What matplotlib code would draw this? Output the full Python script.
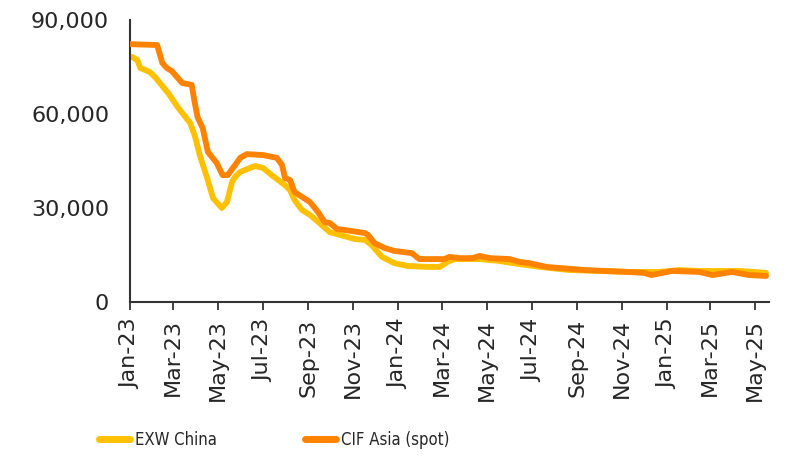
import matplotlib
matplotlib.use("Agg")
import matplotlib.pyplot as plt
import matplotlib.dates as mdates
from matplotlib.font_manager import FontProperties
import pandas as pd

# ---- data ----
exw_dates = ["2023-01-01", "2023-01-04", "2023-01-11", "2023-01-15", "2023-01-28", "2023-02-04",
             "2023-02-22", "2023-03-07", "2023-03-24", "2023-03-30", "2023-04-06", "2023-04-16",
             "2023-04-24", "2023-05-06", "2023-05-13", "2023-05-20", "2023-05-24", "2023-05-31",
             "2023-06-20", "2023-07-01", "2023-07-13", "2023-07-31", "2023-08-07", "2023-08-13",
             "2023-08-23", "2023-09-03", "2023-09-16", "2023-09-30", "2023-10-14", "2023-11-03",
             "2023-11-17", "2023-11-26", "2023-12-10", "2023-12-27", "2024-01-14", "2024-02-10",
             "2024-02-27", "2024-03-08", "2024-03-18", "2024-04-21", "2024-05-18", "2024-06-14",
             "2024-07-12", "2024-08-21", "2024-10-01", "2024-11-11", "2024-12-22", "2025-01-18",
             "2025-02-14", "2025-03-14", "2025-04-11", "2025-05-16"]
exw_values = [78200, 78200, 77200, 74700, 73400, 71800,
              66700, 62200, 57100, 53300, 46900, 39600,
              33200, 30000, 31900, 38300, 39900, 41500,
              43400, 42800, 40500, 37300, 35700, 32600,
              29400, 27800, 25200, 22300, 21400, 20100,
              19800, 18200, 14400, 12400, 11500, 11200,
              11200, 12800, 13700, 13700, 13100, 12100,
              11200, 10200, 9900, 9600, 9600, 10200,
              9900, 9900, 9900, 9300]

cif_dates = ["2023-01-01", "2023-02-07", "2023-02-14", "2023-02-20", "2023-02-27", "2023-03-13",
             "2023-03-26", "2023-03-30", "2023-04-03", "2023-04-10", "2023-04-17", "2023-04-29",
             "2023-05-07", "2023-05-14", "2023-05-24", "2023-05-31", "2023-06-09", "2023-07-01",
             "2023-07-20", "2023-07-27", "2023-07-31", "2023-08-07", "2023-08-13", "2023-09-03",
             "2023-09-14", "2023-09-23", "2023-09-30", "2023-10-10", "2023-10-20", "2023-11-17",
             "2023-11-21", "2023-11-30", "2023-12-14", "2023-12-27", "2024-01-20", "2024-01-26",
             "2024-01-30", "2024-02-20", "2024-03-04", "2024-03-11", "2024-03-25", "2024-04-11",
             "2024-04-21", "2024-05-05", "2024-06-01", "2024-06-14", "2024-06-28", "2024-07-21",
             "2024-09-11", "2024-11-08", "2024-12-01", "2024-12-11", "2025-01-08", "2025-02-14",
             "2025-03-04", "2025-03-31", "2025-04-23", "2025-05-16"]
cif_values = [82300, 82000, 76300, 74700, 73700, 69900,
              69300, 63800, 59000, 55500, 47900, 44400,
              40500, 40500, 43700, 46000, 47200, 46900,
              46000, 43700, 39600, 38900, 35100, 31900,
              28700, 25500, 25200, 23300, 23000, 22000,
              21400, 18800, 17200, 16300, 15600, 14400,
              13700, 13700, 13700, 14400, 14000, 14000,
              14700, 14000, 13700, 12800, 12400, 11200,
              10200, 9600, 9300, 8600, 9900, 9600,
              8600, 9600, 8600, 8300]

series_names = ["EXW China", "CIF Asia (spot)"]
y_ticks = [0, 30000, 60000, 90000]

# ---- plotting ----
plt.rcParams['font.family'] = ['DejaVu Sans']
fig = plt.figure(figsize=(7.87, 4.57), dpi=100)
ax = fig.add_axes([130/787, 1-302/457, (769-130)/787, (302-20)/457])

c_exw = "#FFC000"
c_cif = "#FF8200"
ax.plot(pd.to_datetime(exw_dates), exw_values, color=c_exw, lw=4.2,
        solid_joinstyle="round", solid_capstyle="round", label=series_names[0], zorder=2)
ax.plot(pd.to_datetime(cif_dates), cif_values, color=c_cif, lw=4.2,
        solid_joinstyle="round", solid_capstyle="round", label=series_names[1], zorder=3)

ax.set_ylim(0, 90000)
ax.set_yticks(y_ticks)
ax.set_yticklabels([f"{v:,}" for v in y_ticks])
ax.set_xlim(pd.Timestamp("2023-01-01"), pd.Timestamp("2025-05-20"))
ax.xaxis.set_major_locator(mdates.MonthLocator(bymonth=[1, 3, 5, 7, 9, 11]))
ax.xaxis.set_major_formatter(mdates.DateFormatter("%b-%y"))

for s in ["top", "right"]:
    ax.spines[s].set_visible(False)
for s in ["left", "bottom"]:
    ax.spines[s].set_color("#333333")
    ax.spines[s].set_linewidth(1.5)

ax.tick_params(axis="y", length=0, labelsize=16, colors="#262626", pad=15)
ax.tick_params(axis="x", length=6, width=1.3, color="#333333", labelsize=16,
               labelcolor="#262626", labelrotation=90, pad=6)

leg_font = FontProperties(family="DejaVu Sans", stretch="condensed", size=12)
leg = fig.legend(loc="center", bbox_to_anchor=(0.348, 1-440/457), ncol=2, frameon=False,
                 prop=leg_font, handlelength=1.85, handletextpad=0.3, columnspacing=5.3)
for line in leg.get_lines():
    line.set_linewidth(5)
    line.set_solid_capstyle("round")
for t in leg.get_texts():
    t.set_color("#262626")

fig.savefig("out.png", dpi=100)
